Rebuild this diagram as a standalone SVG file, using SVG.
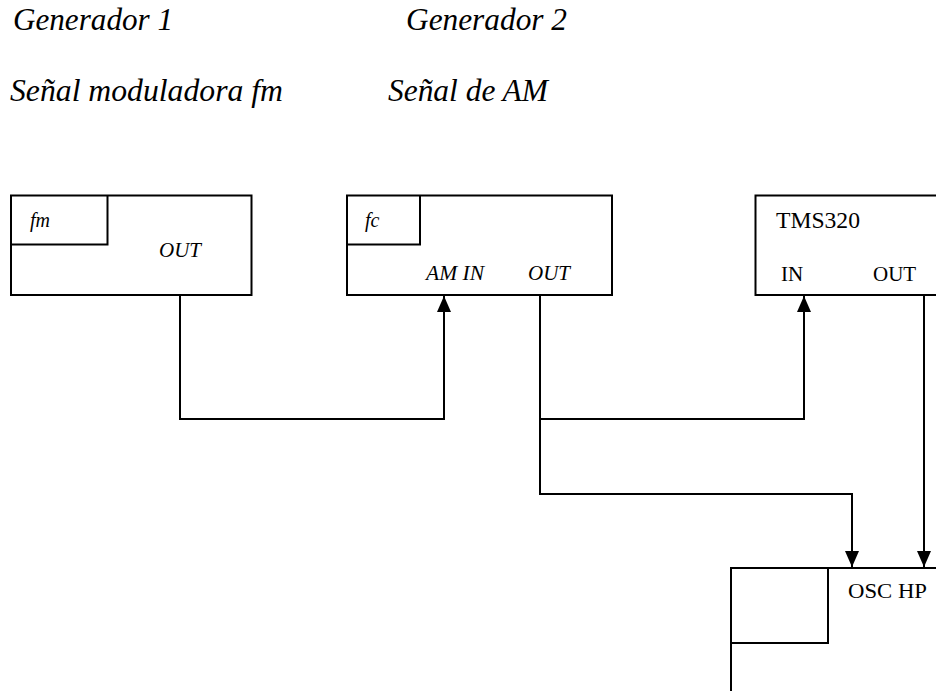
<svg xmlns="http://www.w3.org/2000/svg" width="936" height="691" viewBox="0 0 936 691">
<style>
.box{fill:none;stroke:#000;stroke-width:2}
.wire{fill:none;stroke:#000;stroke-width:2}
text{font-family:'Liberation Serif','Times New Roman',Times,serif;fill:#000}
.it{font-style:italic}
</style>
<defs>
<marker id="ah" markerWidth="16" markerHeight="14" refX="16" refY="7" orient="auto" markerUnits="userSpaceOnUse">
<path d="M0,0 L16,7 L0,14 Z" fill="#000"/>
</marker>
</defs>
<rect width="936" height="691" fill="#fff"/>
<g id="titles">
<text class="it" x="13" y="29.5" font-size="31" textLength="160" lengthAdjust="spacingAndGlyphs">Generador 1</text>
<text class="it" x="406" y="29.5" font-size="31" textLength="161" lengthAdjust="spacingAndGlyphs">Generador 2</text>
<text class="it" x="10" y="101" font-size="31" textLength="273" lengthAdjust="spacingAndGlyphs">Señal moduladora fm</text>
<text class="it" x="388" y="101" font-size="31" textLength="160" lengthAdjust="spacingAndGlyphs">Señal de AM</text>
</g>
<g id="gen1">
<rect class="box" x="11" y="195.5" width="240.5" height="99.5"/>
<path class="box" d="M11,244.5 H107.5 V195.5"/>
<text class="it" x="30" y="227" font-size="20">fm</text>
<text class="it" x="159" y="257" font-size="20" textLength="42" lengthAdjust="spacingAndGlyphs">OUT</text>
</g>
<g id="gen2">
<rect class="box" x="347" y="195.5" width="265" height="99.5"/>
<path class="box" d="M347,244.5 H420 V195.5"/>
<text class="it" x="365" y="227" font-size="20">fc</text>
<text class="it" x="426" y="280" font-size="20" textLength="58" lengthAdjust="spacingAndGlyphs">AM IN</text>
<text class="it" x="528" y="280" font-size="20" textLength="42" lengthAdjust="spacingAndGlyphs">OUT</text>
</g>
<g id="tms320">
<path class="box" d="M937,195.5 H755.5 V295 H937"/>
<text x="776" y="228" font-size="24" textLength="84" lengthAdjust="spacingAndGlyphs">TMS320</text>
<text x="781" y="281" font-size="21">IN</text>
<text x="873" y="281" font-size="21">OUT</text>
</g>
<g id="osc">
<path class="box" d="M937,568 H731 V692"/>
<path class="box" d="M731,643 H828 V568"/>
<text x="848" y="598" font-size="21" textLength="79" lengthAdjust="spacingAndGlyphs">OSC  HP</text>
</g>
<g id="connectors">
<path class="wire" d="M180,295 V419 H444 V296" marker-end="url(#ah)"/>
<path class="wire" d="M540,295 V419 H804 V296" marker-end="url(#ah)"/>
<path class="wire" d="M540,419 V494 H852 V567" marker-end="url(#ah)"/>
<path class="wire" d="M924,295 V567" marker-end="url(#ah)"/>
</g>
</svg>
